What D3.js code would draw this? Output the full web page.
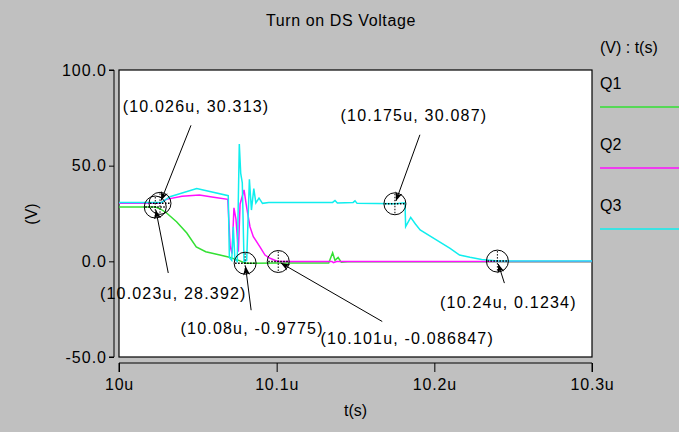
<!DOCTYPE html>
<html>
<head>
<meta charset="utf-8">
<script src="https://cdn.jsdelivr.net/npm/d3@7"></script>
<style>
body { margin: 0; background: #c0c0c0; }
svg { display: block; font-family: "Liberation Sans", Arial, sans-serif; }
</style>
</head>
<body>
<svg></svg>
<script>
// time in microseconds, voltage in volts
var q1Time = [10.0, 10.023, 10.026, 10.030, 10.0365, 10.043, 10.049, 10.055, 10.064, 10.070, 10.076, 10.080, 10.101, 10.133, 10.1355, 10.137, 10.139, 10.141, 10.145, 10.3];
var q1Volt = [28.4, 28.392, 27.5, 25.4, 20.7, 14.8, 7.5, 5.0, 3.3, 2.1, 0.5, -0.9775, -0.9, -0.9, 4.5, 0.5, 2.0, -0.5, -0.2, -0.2];

var q2Time = [10.0, 10.026, 10.030, 10.040, 10.051, 10.060, 10.069, 10.0705, 10.0717, 10.0729, 10.0742, 10.0757, 10.0768, 10.0793, 10.0810, 10.0831, 10.0852, 10.0894, 10.0926, 10.0958, 10.100, 10.101, 10.135, 10.136, 10.138, 10.3];
var q2Volt = [30.3, 30.313, 32.4, 34.0, 34.7, 33.5, 32.4, 8, 4, 28, 22, 5, 30, 37.3, 28, 18, 12.9, 7.6, 3.3, 1.6, 0.2, -0.086847, -0.09, -0.7, -0.09, -0.09];

var q3Time = [10.0, 10.027, 10.0323, 10.0493, 10.0693, 10.0700, 10.0715, 10.0725, 10.0735, 10.0750, 10.0763, 10.0772, 10.0782, 10.0793, 10.0810, 10.0827, 10.0840, 10.0855, 10.0868, 10.0888, 10.0910, 10.095, 10.1355, 10.137, 10.1385, 10.1485, 10.1497, 10.151, 10.175, 10.1814, 10.1818, 10.1850, 10.1880, 10.191, 10.2015, 10.21, 10.216, 10.2226, 10.23, 10.24, 10.3];
var q3Volt = [30.8, 30.8, 33.8, 38.1, 34.3, 2.0, 0.5, 18, 1, 0, 61.3, 46, 41, 0, 0.5, 42.9, 26.8, 38, 30.5, 33, 30.3, 30.8, 30.8, 31.8, 30.5, 30.8, 31.6, 30.3, 30.087, 30.6, 18.1, 23, 19.5, 16.4, 11.1, 6.8, 3.3, 2.1, 1.0, 0.1234, 0.12];

var seriesNames = ['Q1', 'Q2', 'Q3'];
var seriesColors = ['#33e033', '#ff10ff', '#10eeee'];

var markerTime = [10.026, 10.023, 10.08, 10.101, 10.175, 10.24];
var markerVolt = [30.313, 28.392, -0.9775, -0.086847, 30.087, 0.1234];

var yTicks = [100, 50, 0, -50];
var xTicks = [10.0, 10.1, 10.2, 10.3];
var xTickLabels = ['10u', '10.1u', '10.2u', '10.3u'];

// callout placement relative to the marker (pixels): label centre, arrow tail
var calloutLabel = [[36, -97], [18, 86], [7, 65], [129, 77], [19, -88], [11, 41]];
var calloutTail = [[31, -78], [13, 66], [6, 47], [104, 60], [25, -69], [7, 22]];

var W = 679, H = 432;
var L = 119, R = 592, T = 70, B = 357;

var svg = d3.select('svg').attr('width', W).attr('height', H);
svg.append('rect').attr('width', W).attr('height', H).attr('fill', '#c0c0c0');

var x = d3.scaleLinear().domain([10.0, 10.3]).range([L, R]);
var y = d3.scaleLinear().domain([-50, 100]).range([B, T]);

svg.append('text')
  .attr('x', 341).attr('y', 26)
  .attr('text-anchor', 'middle')
  .attr('font-size', 16).attr('letter-spacing', 0.6)
  .text('Turn on DS Voltage');

// plot box
svg.append('rect')
  .attr('x', L).attr('y', T).attr('width', R - L).attr('height', B - T)
  .attr('fill', '#fff').attr('stroke', '#000').attr('stroke-width', 1.2);

svg.append('clipPath').attr('id', 'clip')
  .append('rect').attr('x', L).attr('y', T).attr('width', R - L).attr('height', B - T);

// y axis, detached to the left of the box
var yAxis = d3.axisLeft(y).tickValues(yTicks).tickSize(5).tickPadding(2)
  .tickFormat(function (d) { return d.toFixed(1); });
var gy = svg.append('g').attr('transform', 'translate(' + (L - 5) + ',0)').call(yAxis);
gy.select('.domain').attr('d', 'M-5,' + T + 'H0V' + B + 'H-5');
gy.selectAll('text').attr('font-size', 16).attr('letter-spacing', 1).attr('fill', '#000')
  .attr('font-family', '"Liberation Sans", Arial, sans-serif');

svg.append('text')
  .attr('transform', 'translate(31,214) rotate(-90)')
  .attr('text-anchor', 'middle').attr('dy', '0.35em')
  .attr('font-size', 16)
  .text('(V)');

// x axis, detached below the box
var xAxis = d3.axisBottom(x).tickValues(xTicks).tickSize(9).tickPadding(7)
  .tickFormat(function (d, i) { return xTickLabels[i]; });
var gx = svg.append('g').attr('transform', 'translate(0,' + (B + 6) + ')').call(xAxis);
gx.select('.domain').attr('d', 'M' + L + ',9V0H' + R + 'V9');
gx.selectAll('text').attr('font-size', 16).attr('letter-spacing', 0.8).attr('fill', '#000')
  .attr('font-family', '"Liberation Sans", Arial, sans-serif');

svg.append('text')
  .attr('x', (L + R) / 2).attr('y', 416)
  .attr('text-anchor', 'middle')
  .attr('font-size', 16)
  .text('t(s)');

// curves
var line = d3.line().x(function (d) { return x(d[0]); }).y(function (d) { return y(d[1]); });
var series = [d3.zip(q1Time, q1Volt), d3.zip(q2Time, q2Volt), d3.zip(q3Time, q3Volt)];
svg.append('g').attr('clip-path', 'url(#clip)')
  .selectAll('path').data(series).enter()
  .append('path')
  .attr('d', line)
  .attr('fill', 'none')
  .attr('stroke', function (d, i) { return seriesColors[i]; })
  .attr('stroke-width', 1.5);

// legend
svg.append('text').attr('x', 600).attr('y', 53).attr('font-size', 16).text('(V) : t(s)');
var lg = svg.selectAll('.leg').data(seriesNames).enter().append('g').attr('class', 'leg')
  .attr('transform', function (d, i) { return 'translate(600,' + (89 + i * 61) + ')'; });
lg.append('text').attr('font-size', 16).text(function (d) { return d; });
lg.append('line').attr('x1', 0).attr('x2', 79).attr('y1', 18).attr('y2', 18)
  .attr('stroke', function (d, i) { return seriesColors[i]; }).attr('stroke-width', 1.5);

// markers with callouts
svg.append('defs').append('marker')
  .attr('id', 'arrow').attr('viewBox', '0 0 10 10').attr('refX', 10).attr('refY', 5)
  .attr('markerWidth', 9).attr('markerHeight', 9).attr('markerUnits', 'userSpaceOnUse')
  .attr('orient', 'auto')
  .append('path').attr('d', 'M0,1L10,5L0,9L3,5Z').attr('fill', '#000');

var marks = d3.zip(markerTime, markerVolt);
var mg = svg.selectAll('.mk').data(marks).enter().append('g').attr('class', 'mk')
  .attr('transform', function (d) { return 'translate(' + x(d[0]) + ',' + y(d[1]) + ')'; });

mg.append('circle').attr('r', 11).attr('fill', 'none').attr('stroke', '#000').attr('stroke-width', 1);
mg.append('line').attr('x1', -10).attr('x2', 10).attr('y1', 0).attr('y2', 0)
  .attr('stroke', '#000').attr('stroke-width', 1.5).attr('stroke-dasharray', '1.5,1.5');
mg.append('line').attr('x1', 0).attr('x2', 0).attr('y1', -10).attr('y2', 10)
  .attr('stroke', '#000').attr('stroke-width', 1).attr('stroke-dasharray', '1.5,1.5');

mg.append('line')
  .attr('x1', function (d, i) { return calloutTail[i][0]; })
  .attr('y1', function (d, i) { return calloutTail[i][1]; })
  .attr('x2', function (d, i) {
    var t = calloutTail[i], len = Math.hypot(t[0], t[1]);
    return t[0] / len * 3;
  })
  .attr('y2', function (d, i) {
    var t = calloutTail[i], len = Math.hypot(t[0], t[1]);
    return t[1] / len * 3;
  })
  .attr('stroke', '#000').attr('stroke-width', 1)
  .attr('marker-end', 'url(#arrow)');

mg.append('text')
  .attr('x', function (d, i) { return calloutLabel[i][0]; })
  .attr('y', function (d, i) { return calloutLabel[i][1]; })
  .attr('dy', '0.35em')
  .attr('text-anchor', 'middle')
  .attr('font-size', 16).attr('letter-spacing', 1.2)
  .text(function (d) { return '(' + d[0] + 'u, ' + d[1] + ')'; });
</script>
</body>
</html>
